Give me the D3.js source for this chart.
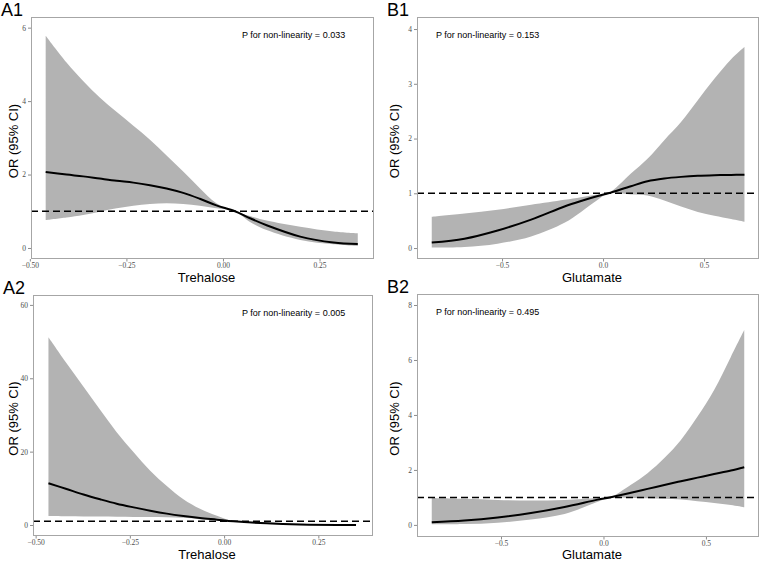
<!DOCTYPE html>
<html>
<head>
<meta charset="utf-8">
<script src="https://cdn.jsdelivr.net/npm/d3@7"></script>
<style>
  body { margin: 0; background: #fff; }
  svg { display: block; }
</style>
</head>
<body>
<div id="chart"></div>
<script>
// data (OR with 95% CI)
var trehaloseX1 = [-0.459, -0.405, -0.362, -0.319, -0.275, -0.232, -0.189, -0.146, -0.103, -0.060, -0.017, 0.031, 0.070, 0.113, 0.200, 0.286, 0.349];
var a1Fit   = [2.07, 2.00, 1.95, 1.89, 1.83, 1.78, 1.71, 1.62, 1.50, 1.34, 1.16, 1.00, 0.81, 0.62, 0.31, 0.15, 0.11];
var a1Upper = [5.78, 5.05, 4.55, 4.10, 3.70, 3.33, 2.95, 2.52, 2.08, 1.63, 1.22, 1.00, 0.87, 0.75, 0.58, 0.45, 0.40];
var a1Lower = [0.76, 0.83, 0.90, 0.99, 1.08, 1.15, 1.20, 1.22, 1.20, 1.15, 1.08, 1.00, 0.71, 0.49, 0.22, 0.10, 0.05];

var trehaloseX2 = [-0.466, -0.418, -0.373, -0.329, -0.285, -0.240, -0.196, -0.152, -0.108, -0.064, -0.019, 0.025, 0.113, 0.200, 0.350];
var a2Fit   = [11.4, 9.8, 8.3, 7.0, 5.8, 4.8, 3.9, 3.1, 2.45, 1.9, 1.45, 1.0, 0.45, 0.15, 0.02];
var a2Upper = [51.2, 44.1, 37.7, 31.4, 25.3, 19.8, 14.8, 10.6, 7.0, 4.4, 2.5, 1.05, 0.7, 0.35, 0.15];
var a2Lower = [2.45, 2.4, 2.35, 2.3, 2.25, 2.2, 2.15, 2.1, 1.95, 1.6, 1.3, 0.95, 0.25, 0.05, 0.0];

var glutamateX1 = [-0.848, -0.686, -0.522, -0.356, -0.191, -0.109, -0.026, 0.026, 0.138, 0.220, 0.303, 0.386, 0.469, 0.551, 0.634, 0.700];
var b1Fit   = [0.10, 0.17, 0.32, 0.52, 0.76, 0.86, 0.95, 1.00, 1.13, 1.22, 1.27, 1.30, 1.32, 1.33, 1.335, 1.34];
var b1Upper = [0.57, 0.63, 0.70, 0.79, 0.88, 0.93, 0.98, 1.00, 1.36, 1.63, 1.97, 2.30, 2.70, 3.09, 3.45, 3.67];
var b1Lower = [0.01, 0.02, 0.08, 0.21, 0.46, 0.66, 0.88, 1.00, 0.98, 0.96, 0.87, 0.76, 0.66, 0.59, 0.53, 0.48];

var glutamateX2 = [-0.838, -0.679, -0.516, -0.354, -0.190, -0.028, 0.030, 0.134, 0.215, 0.297, 0.378, 0.459, 0.540, 0.622, 0.687];
var b2Fit   = [0.10, 0.16, 0.27, 0.43, 0.65, 0.92, 1.00, 1.17, 1.31, 1.45, 1.59, 1.72, 1.85, 1.98, 2.10];
var b2Upper = [0.98, 0.95, 0.91, 0.89, 0.91, 0.98, 1.00, 1.46, 1.88, 2.43, 3.09, 3.94, 4.91, 6.12, 7.09];
var b2Lower = [0.02, 0.03, 0.08, 0.20, 0.40, 0.84, 1.00, 0.98, 0.97, 0.95, 0.92, 0.86, 0.80, 0.72, 0.64];

var trehaloseTicks = [-0.5, -0.25, 0, 0.25];
var glutamateTicks = [-0.5, 0, 0.5];
var a1YTicks = [0, 2, 4, 6];
var a2YTicks = [0, 20, 40, 60];
var b1YTicks = [0, 1, 2, 3, 4];
var b2YTicks = [0, 2, 4, 6, 8];

var panelLabels = ["A1", "B1", "A2", "B2"];
var pLabels = ["P for non-linearity = 0.033", "P for non-linearity = 0.153",
               "P for non-linearity = 0.005", "P for non-linearity = 0.495"];

var W = 762, H = 561;
var sansFont = "Arial, 'Liberation Sans', Helvetica, sans-serif";
var serifFont = "'Times New Roman', 'Liberation Serif', serif";

var svg = d3.select("#chart").append("svg")
  .attr("width", W)
  .attr("height", H);

var panels = [
  {id: "a1", label: panelLabels[0], p: pLabels[0], xs: trehaloseX1, fit: a1Fit, lo: a1Lower, hi: a1Upper,
   left: 31, top: 17, right: 374, bottom: 259, xDom: [-0.497, 0.391], yDom: [-0.30, 6.29],
   xTicks: trehaloseTicks, xFmt: ".2f", yTicks: a1YTicks, xTitle: "Trehalose", pX: 242, titleX: 13},
  {id: "b1", label: panelLabels[1], p: pLabels[1], xs: glutamateX1, fit: b1Fit, lo: b1Lower, hi: b1Upper,
   left: 417, top: 17, right: 759, bottom: 259, xDom: [-0.921, 0.772], yDom: [-0.20, 4.22],
   xTicks: glutamateTicks, xFmt: ".1f", yTicks: b1YTicks, xTitle: "Glutamate", pX: 436, titleX: 394},
  {id: "a2", label: panelLabels[2], p: pLabels[2], xs: trehaloseX2, fit: a2Fit, lo: a2Lower, hi: a2Upper,
   left: 33, top: 295, right: 373, bottom: 536, xDom: [-0.507, 0.395], yDom: [-3.0, 62.7],
   xTicks: trehaloseTicks, xFmt: ".2f", yTicks: a2YTicks, xTitle: "Trehalose", pX: 242, titleX: 13},
  {id: "b2", label: panelLabels[3], p: pLabels[3], xs: glutamateX2, fit: b2Fit, lo: b2Lower, hi: b2Upper,
   left: 417, top: 294, right: 759, bottom: 537, xDom: [-0.910, 0.759], yDom: [-0.44, 8.4],
   xTicks: glutamateTicks, xFmt: ".1f", yTicks: b2YTicks, xTitle: "Glutamate", pX: 436, titleX: 394}
];

panels.forEach(function(p) {
  var x = d3.scaleLinear().domain(p.xDom).range([p.left, p.right]);
  var y = d3.scaleLinear().domain(p.yDom).range([p.bottom, p.top]);
  var rows = p.xs.map(function(v, k) {
    return {x: v, fit: p.fit[k], lo: p.lo[k], hi: p.hi[k]};
  });

  var g = svg.append("g").attr("class", "panel-" + p.id);

  // clip to the panel
  g.append("clipPath").attr("id", "clip-" + p.id)
    .append("rect")
    .attr("x", p.left).attr("y", p.top)
    .attr("width", p.right - p.left).attr("height", p.bottom - p.top);

  var inner = g.append("g").attr("clip-path", "url(#clip-" + p.id + ")");

  var band = d3.area()
    .x(function(d) { return x(d.x); })
    .y0(function(d) { return y(d.lo); })
    .y1(function(d) { return y(d.hi); })
    .curve(d3.curveCatmullRom.alpha(0.5));

  var line = d3.line()
    .x(function(d) { return x(d.x); })
    .y(function(d) { return y(d.fit); })
    .curve(d3.curveCatmullRom.alpha(0.5));

  inner.append("path")
    .datum(rows)
    .attr("d", band)
    .style("fill", "#b3b3b3");

  inner.append("line")
    .attr("x1", p.left).attr("x2", p.right)
    .attr("y1", y(1)).attr("y2", y(1))
    .style("stroke", "#000")
    .style("stroke-width", 1.5)
    .style("stroke-dasharray", "7,4");

  inner.append("path")
    .datum(rows)
    .attr("d", line)
    .style("fill", "none")
    .style("stroke", "#000")
    .style("stroke-width", 2);

  // frame
  g.append("rect")
    .attr("x", p.left + 0.5).attr("y", p.top + 0.5)
    .attr("width", p.right - p.left - 1).attr("height", p.bottom - p.top - 1)
    .style("fill", "none")
    .style("stroke", "#a6a6a6")
    .style("stroke-width", 1);

  // axes
  var xAxis = g.append("g")
    .attr("transform", "translate(0," + p.bottom + ")")
    .call(d3.axisBottom(x).tickValues(p.xTicks).tickFormat(d3.format(p.xFmt)).tickSize(2.5).tickPadding(1.5));
  var yAxis = g.append("g")
    .attr("transform", "translate(" + p.left + ",0)")
    .call(d3.axisLeft(y).tickValues(p.yTicks).tickFormat(d3.format("d")).tickSize(3).tickPadding(2));

  [xAxis, yAxis].forEach(function(ax) {
    ax.select(".domain").remove();
    ax.selectAll(".tick line").style("stroke", "#8c8c8c");
    ax.selectAll(".tick text")
      .style("font-family", serifFont)
      .style("font-size", "7.5px")
      .style("fill", "#4d4d4d");
  });

  // titles
  g.append("text")
    .attr("x", (p.left + p.right) / 2 + 4)
    .attr("y", Math.min(p.bottom + 22.5, H - 2))
    .attr("text-anchor", "middle")
    .style("font-family", sansFont)
    .style("font-size", "13px")
    .style("fill", "#000")
    .text(p.xTitle);

  var cy = (p.top + p.bottom) / 2 + 3;
  g.append("text")
    .attr("transform", "translate(" + p.titleX + "," + cy + ") rotate(-90)")
    .attr("text-anchor", "middle")
    .attr("dy", "0.35em")
    .style("font-family", sansFont)
    .style("font-size", "13px")
    .style("fill", "#000")
    .text("OR (95% CI)");

  g.append("text")
    .attr("x", p.left - 30)
    .attr("y", p.top - 1)
    .style("font-family", sansFont)
    .style("font-size", "18px")
    .style("fill", "#000")
    .text(p.label);

  g.append("text")
    .attr("x", p.pX)
    .attr("y", p.top + 21)
    .style("font-family", sansFont)
    .style("font-size", "9px")
    .style("fill", "#000")
    .text(p.p);
});
</script>
</body>
</html>
